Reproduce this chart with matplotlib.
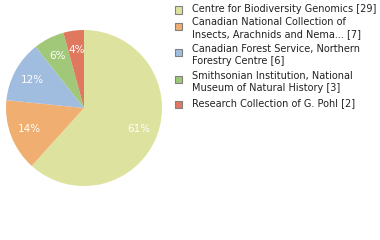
import matplotlib
matplotlib.use("Agg")
import matplotlib.pyplot as plt
from matplotlib.patches import Rectangle

# data
labels = ["Centre for Biodiversity Genomics [29]",
          "Canadian National Collection of\nInsects, Arachnids and Nema... [7]",
          "Canadian Forest Service, Northern\nForestry Centre [6]",
          "Smithsonian Institution, National\nMuseum of Natural History [3]",
          "Research Collection of G. Pohl [2]"]
counts = [29, 7, 6, 3, 2]
colors = ["#dde39e", "#f0ae70", "#a0bde0", "#a0c878", "#e07860"]

W, H = 380, 240
fig = plt.figure(figsize=(W / 100, H / 100), dpi=100)

# pie: center (84,108) px, radius 78 px
cx, cy, r = 84, 108, 78
ax = fig.add_axes([(cx - r) / W, 1 - (cy + r) / H, 2 * r / W, 2 * r / H])
wedges, texts, autotexts = ax.pie(
    counts, colors=colors, startangle=90, counterclock=False,
    autopct=lambda p: "%d%%" % int(p), pctdistance=0.75,
    wedgeprops=dict(linewidth=0),
    textprops=dict(color="white", fontsize=7.5))
ax.set_aspect("auto")
ax.set_xlim(-1, 1)
ax.set_ylim(-1, 1)
ax.axis("off")

# legend, drawn by hand
sq_y = [10, 26, 52, 79, 104]
txt_y = [9, 22, 49, 76, 103]
for lab, col, sy, ty in zip(labels, colors, sq_y, txt_y):
    fig.patches.append(Rectangle(((175) / W, 1 - (sy + 3.5) / H), 7 / W, 7 / H,
                                 transform=fig.transFigure, facecolor=col,
                                 edgecolor="#808080", linewidth=0.8))
    fig.text(192 / W, 1 - (ty - 5) / H, lab, fontsize=7, color="#222222",
             va="top", ha="left", linespacing=1.2)

fig.savefig("out.png", dpi=100)
